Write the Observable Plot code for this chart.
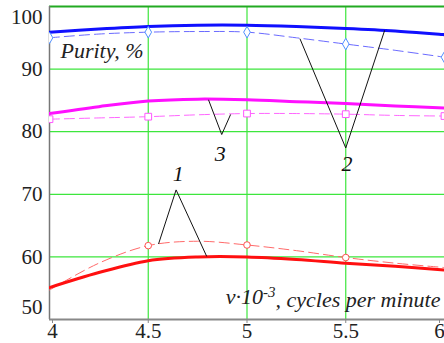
<!DOCTYPE html>
<html><head><meta charset="utf-8">
<script src="https://cdn.jsdelivr.net/npm/d3@7"></script>
<script src="https://cdn.jsdelivr.net/npm/@observablehq/plot@0.6"></script>
<style>body{margin:0;background:#fff} svg text{font-family:"Liberation Serif","Times New Roman",serif !important;}</style>
</head><body><div id="chart"></div>
<script>
// x values (v·10^-3, cycles per minute)
const xs = [4, 4.25, 4.5, 4.75, 5, 5.25, 5.5, 5.75, 6];
// curve 1 (red)
const redSolid  = [55.1, 57.5, 59.4, 60.0, 60.0, 59.6, 59.0, 58.5, 57.9];
const redDashed = [54.7, 59.0, 61.8, 62.5, 61.9, 61.0, 59.9, 59.0, 58.3];
const redMarkX  = [4.5, 5, 5.5];
// curve 2 (blue)
const blueSolid  = [95.9, 96.4, 96.8, 97.0, 97.0, 96.8, 96.5, 96.1, 95.5];
const blueDashed = [95.0, 95.6, 95.9, 96.0, 95.9, 95.0, 94.0, 93.0, 91.9];
const blueMarkX  = [4, 4.5, 5, 5.5, 6];
// curve 3 (magenta)
const magSolid  = [82.9, 84.0, 84.9, 85.2, 85.1, 84.8, 84.5, 84.1, 83.8];
const magDashed = [82.0, 82.2, 82.4, 82.7, 82.9, 82.9, 82.8, 82.6, 82.5];
const magMarkX  = [4, 4.5, 5, 5.5, 6];

const xTicks = [4, 4.5, 5, 5.5, 6];
const yTicks = [50, 60, 70, 80, 90, 100];
const xGrid = [4.5, 5, 5.5];
const yGrid = [60, 70, 80, 90];

// callouts
const calloutLabels = ["1", "2", "3"];
const calloutApexX = [4.641, 5.5, 4.872];
const calloutApexY = [70.7, 77.4, 79.55];
const calloutEndsX = [[4.552, 4.796], [5.268, 5.697], [4.805, 4.917]];
const calloutEndsY = [[62.06, 60.08], [94.86, 96.19], [85.1, 82.75]];
const calloutTextX = [4.652, 5.506, 4.864];
const calloutTextY = [73.3, 74.9, 76.5];

const yLabel = "Purity, %";
const xLabel = "v·10^-3, cycles per minute";

const line = (ys) => xs.map((x, i) => ({x, y: ys[i]}));
const marks = (mx, ys) => mx.map(x => ({x, y: ys[xs.indexOf(x)]}));
const links = calloutLabels.flatMap((l, i) => calloutEndsX[i].map((ex, j) => ({
  x1: calloutApexX[i], y1: calloutApexY[i], x2: ex, y2: calloutEndsY[i][j]})));
const labels = calloutLabels.map((t, i) => ({t, x: calloutTextX[i], y: calloutTextY[i]}));

const serif = "Liberation Serif";
const green = "#3de63d";
const fs = 21, fsi = 22;
const fmt = d => String(d);
const ax = {fontSize: fs, fill: "#222", fontFamily: serif, tickFormat: fmt};

const chart = Plot.plot({
  width: 444, height: 343,
  marginLeft: 49, marginRight: 0, marginTop: 6, marginBottom: 24,
  style: {fontFamily: serif, color: "#222", background: "#fff", overflow: "visible"},
  x: {domain: [4, 6], axis: null},
  y: {domain: [50, 100], axis: null},
  marks: [
    Plot.gridX(xGrid, {stroke: green, strokeOpacity: 1, strokeWidth: 1.2}),
    Plot.gridY(yGrid, {stroke: green, strokeOpacity: 1, strokeWidth: 1.2}),
    Plot.ruleY([100], {stroke: "#22aa22", strokeWidth: 2}),
    Plot.ruleX([4], {stroke: "#777", strokeWidth: 1.5}),
    Plot.ruleY([50], {stroke: "#888", strokeWidth: 2}),
    // dashed lines
    Plot.line(line(blueDashed), {x: "x", y: "y", curve: "catmull-rom", stroke: "#6a6aff", strokeWidth: 1, strokeDasharray: "10,5", clip: "frame"}),
    Plot.line(line(magDashed), {x: "x", y: "y", curve: "catmull-rom", stroke: "#ff66ff", strokeWidth: 1, strokeDasharray: "10,5", clip: "frame"}),
    Plot.line(line(redDashed), {x: "x", y: "y", curve: "catmull-rom", stroke: "#ff6a6a", strokeWidth: 1, strokeDasharray: "10,5", clip: "frame"}),
    // solid lines
    Plot.line(line(blueSolid), {x: "x", y: "y", curve: "catmull-rom", stroke: "#1010ff", strokeWidth: 3, clip: "frame"}),
    Plot.line(line(magSolid), {x: "x", y: "y", curve: "catmull-rom", stroke: "#ff10ff", strokeWidth: 3, clip: "frame"}),
    Plot.line(line(redSolid), {x: "x", y: "y", curve: "catmull-rom", stroke: "#ff1010", strokeWidth: 3, clip: "frame"}),
    // markers
    Plot.dot(marks(blueMarkX, blueDashed), {x: "x", y: "y", symbol: "diamond", r: 3.5, stroke: "#4f8fff", fill: "#fff", strokeWidth: 1, clip: "frame"}),
    Plot.dot(marks(magMarkX, magDashed), {x: "x", y: "y", symbol: "square", r: 3.8, stroke: "#ff55ff", fill: "#fff", strokeWidth: 1, clip: "frame"}),
    Plot.dot(marks(redMarkX, redDashed), {x: "x", y: "y", symbol: "circle", r: 3.3, stroke: "#ff5050", fill: "#fff", strokeWidth: 1, clip: "frame"}),
    // callouts
    Plot.link(links, {x1: "x1", y1: "y1", x2: "x2", y2: "y2", stroke: "#111", strokeWidth: 1}),
    Plot.text(labels, {x: "x", y: "y", text: "t", fontSize: fsi, fontStyle: "italic", fontFamily: serif, fill: "#111", lineAnchor: "middle"}),
    // axes
    Plot.axisY([60, 70, 80, 90], {anchor: "left", tickSize: 0, tickPadding: 7, ...ax}),
    Plot.axisY([100], {anchor: "left", tickSize: 0, tickPadding: 7, ...ax, dy: 11}),
    Plot.axisY([50], {anchor: "left", tickSize: 0, tickPadding: 7, ...ax, dy: -12}),
    Plot.axisX([4.5, 5, 5.5], {anchor: "bottom", tickSize: 4, tickPadding: 0, stroke: "#888", ...ax}),
    Plot.axisX([4], {anchor: "bottom", tickSize: 4, tickPadding: 0, stroke: "#888", ...ax, dx: 3}),
    Plot.axisX([6], {anchor: "bottom", tickSize: 4, tickPadding: 0, stroke: "#888", ...ax, dx: -5}),
    // axis titles
    Plot.text([yLabel], {frameAnchor: "top-left", text: d => d, dx: 11, dy: 44, textAnchor: "start", lineAnchor: "middle", fontSize: fsi, fontStyle: "italic", fontFamily: serif, fill: "#222"}),
    Plot.text([xLabel], {frameAnchor: "bottom-right", text: d => d, dx: -4, dy: -23, textAnchor: "end", lineAnchor: "middle", fontSize: fsi, fontStyle: "italic", fontFamily: serif, fill: "#222"})
  ]
});
document.getElementById("chart").appendChild(chart);

// render the exponent as a superscript
d3.select(chart).selectAll("text").each(function() {
  const el = d3.select(this);
  const s = el.text();
  if (s === xLabel) {
    const [pre, rest] = s.split("^");
    const exp = rest.slice(0, 2), post = rest.slice(2);
    el.text(null);
    el.append("tspan").text(pre);
    el.append("tspan").attr("dy", "-0.45em").attr("font-size", "0.68em").text(exp);
    el.append("tspan").attr("dy", "0.45em").text(post);
  }
});
</script>
</body></html>
